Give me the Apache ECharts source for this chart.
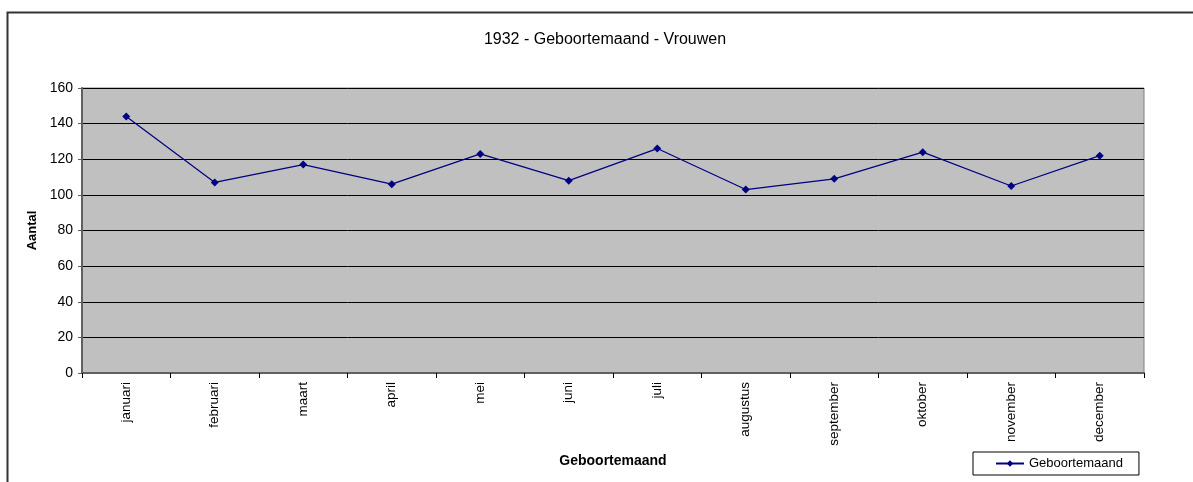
<!DOCTYPE html>
<html>
<head>
<meta charset="utf-8">
<script src="https://cdn.jsdelivr.net/npm/echarts@6/dist/echarts.min.js"></script>
<style>
  html, body { margin: 0; padding: 0; background: #fff; }
  #chart { width: 1193px; height: 482px; }
</style>
</head>
<body>
<div id="chart"></div>
<script>
const months = ['januari', 'februari', 'maart', 'april', 'mei', 'juni', 'juli', 'augustus', 'september', 'oktober', 'november', 'december']
const births = [144, 107, 117, 106, 123, 108, 126, 103, 109, 124, 105, 122]
const yTicks = [0, 20, 40, 60, 80, 100, 120, 140, 160]

const font = '"Liberation Sans", Arial, sans-serif'
const chart = echarts.init(document.getElementById('chart'))

chart.setOption({
  animation: false,
  textStyle: { fontFamily: font },
  title: {
    text: '1932 - Geboortemaand - Vrouwen',
    left: 600,
    top: 27,
    textAlign: 'center',
    textStyle: { fontSize: 16, fontWeight: 'normal', color: '#000', fontFamily: font }
  },
  graphic: [
    {
      type: 'polyline',
      shape: { points: [[7.5, 482], [7.5, 12.5], [1193, 12.5]] },
      style: { stroke: '#333', lineWidth: 2, fill: null }
    }
  ],
  grid: {
    left: 82, right: 49, top: 88, bottom: 109,
    show: true,
    backgroundColor: '#c0c0c0',
    borderColor: '#808080',
    borderWidth: 1
  },
  legend: {
    left: 973, top: 452,
    padding: [5, 16, 5, 22],
    borderColor: '#000',
    borderWidth: 1,
    itemWidth: 28,
    itemHeight: 8,
    itemGap: 3,
    textStyle: { fontSize: 13, color: '#000', fontFamily: font },
    data: ['Geboortemaand']
  },
  xAxis: {
    type: 'category',
    data: months,
    boundaryGap: true,
    name: 'Geboortemaand',
    nameLocation: 'middle',
    nameGap: 81,
    nameTextStyle: { fontSize: 14, fontWeight: 'bold', color: '#000' },
    axisLine: { lineStyle: { color: '#606060', width: 2 } },
    axisTick: { show: true, interval: 0, length: 5, lineStyle: { color: '#000' } },
    axisLabel: { interval: 0, rotate: 90, fontSize: 13.5, color: '#000', margin: 9 },
    splitLine: { show: false }
  },
  yAxis: {
    type: 'value',
    min: yTicks[0],
    max: yTicks[yTicks.length - 1],
    interval: 20,
    name: 'Aantal',
    nameLocation: 'middle',
    nameGap: 43,
    nameMoveOverlap: false,
    nameRotate: 90,
    nameTextStyle: { fontSize: 13, fontWeight: 'bold', color: '#000' },
    axisLine: { show: true, lineStyle: { color: '#606060', width: 2 } },
    axisTick: { show: true, length: 4, lineStyle: { color: '#606060' } },
    axisLabel: { fontSize: 14, color: '#000', margin: 9 },
    splitLine: { lineStyle: { color: '#000', width: 1 } }
  },
  series: [
    {
      name: 'Geboortemaand',
      type: 'line',
      data: births,
      symbol: 'diamond',
      symbolSize: 8,
      itemStyle: { color: '#000080' },
      lineStyle: { color: '#000080', width: 1.2 }
    }
  ]
})
</script>
</body>
</html>
